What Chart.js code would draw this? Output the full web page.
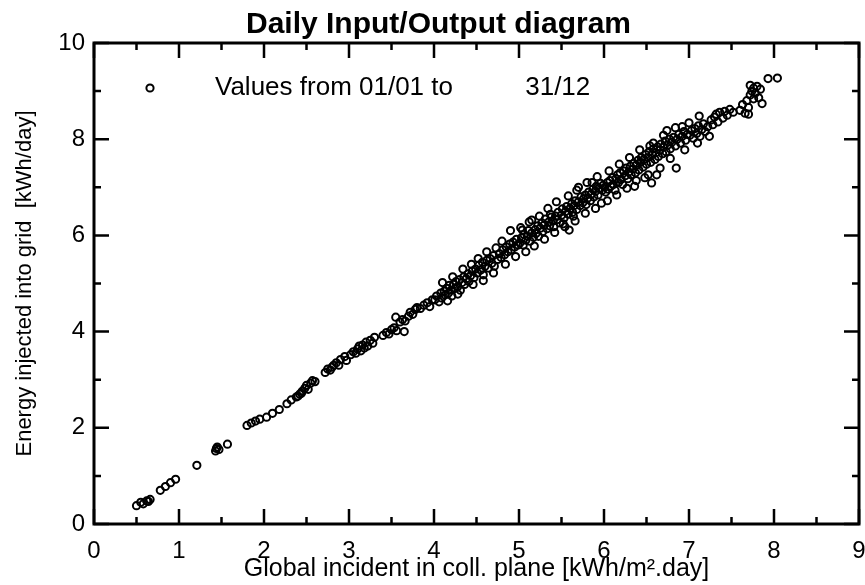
<!DOCTYPE html>
<html>
<head>
<meta charset="utf-8">
<title>Daily Input/Output diagram</title>
<script src="https://cdn.jsdelivr.net/npm/chart.js@4.4.1/dist/chart.umd.min.js"></script>
<style>
  html, body { margin: 0; padding: 0; background: #fff; }
  canvas { display: block; }
</style>
</head>
<body>
<canvas id="chart" width="865" height="585"></canvas>
<script>
// Daily values, one point per day of the year
// Global incident in coll. plane [kWh/m².day]
const globalIncident = [
  0.50, 0.55, 0.58, 0.62, 0.66, 0.78, 0.84, 0.90, 0.96, 0.64,
  1.21, 1.43, 1.45, 1.47, 1.57, 1.80, 1.85, 1.90, 1.95, 1.44,
  2.03, 2.10, 2.18, 2.27, 2.32, 2.38, 2.42, 2.45, 2.48, 2.50,
  2.52, 2.55, 2.57, 2.44, 2.40, 2.60, 2.72, 2.75, 2.78, 2.82,
  2.85, 2.88, 2.90, 2.95, 2.97, 2.80,
  3.02, 3.05, 3.08, 3.10, 3.12, 3.14, 3.16, 3.18, 3.20, 3.22,
  3.25, 3.28, 3.30, 3.40, 3.44, 3.47, 3.50, 3.53, 3.56, 3.60,
  3.63, 3.66, 3.70, 3.72, 3.75, 3.78, 3.80, 3.84, 3.88, 3.92,
  3.95, 3.98,
  4.01, 4.03, 4.06, 4.08, 4.09, 4.12, 4.13, 4.15, 4.17, 4.18,
  4.20, 4.21, 4.23, 4.25, 4.26, 4.28, 4.30, 4.31, 4.33, 4.35,
  4.36, 4.38, 4.40, 4.41, 4.43, 4.45, 4.47, 4.49, 4.51, 4.53,
  4.55, 4.57, 4.58, 4.60, 4.62, 4.64, 4.66, 4.68, 4.70, 4.71,
  4.73, 4.75, 4.77, 4.79, 4.81, 4.83, 4.85, 4.87, 4.89, 4.91,
  4.93, 4.95, 4.97, 4.99, 4.44,
  5.01, 5.03, 5.05, 5.06, 5.08, 5.10, 5.11, 5.13, 5.15, 5.15,
  5.17, 5.19, 5.20, 5.22, 5.23, 5.25, 5.27, 5.28, 5.30, 5.31,
  5.33, 5.35, 5.36, 5.38, 5.40, 5.41, 5.43, 5.45, 5.46, 5.48,
  5.50, 5.51, 5.53, 5.55, 5.56, 5.58, 5.59, 5.60, 5.62, 5.63,
  5.65, 5.66, 5.68, 5.70, 5.70, 5.72, 5.73, 5.75, 5.76, 5.78,
  5.79, 5.81, 5.82, 5.84, 5.85, 5.87, 5.88, 5.90, 5.91, 5.93,
  5.94, 5.96, 5.97, 5.98, 5.99, 5.04, 5.37, 5.52, 5.86, 5.64,
  6.01, 6.02, 6.04, 6.05, 6.07, 6.08, 6.10, 6.11, 6.13, 6.14,
  6.16, 6.17, 6.19, 6.20, 6.22, 6.23, 6.25, 6.26, 6.28, 6.29,
  6.31, 6.32, 6.34, 6.35, 6.37, 6.38, 6.40, 6.41, 6.43, 6.44,
  6.46, 6.47, 6.49, 6.50, 6.52, 6.53, 6.55, 6.56, 6.57, 6.58,
  6.60, 6.61, 6.63, 6.64, 6.66, 6.67, 6.69, 6.70, 6.72, 6.73,
  6.75, 6.77, 6.78, 6.80, 6.82, 6.84, 6.85, 6.86, 6.88, 6.90,
  6.92, 6.94, 6.96, 6.98, 6.48, 6.62, 6.36, 6.74, 6.54, 6.92,
  7.01, 7.03, 7.05, 7.07, 7.09, 7.11, 7.13, 7.15, 7.17, 7.19,
  7.22, 7.26, 7.28, 7.30, 7.32, 7.34, 7.36, 7.40, 7.42, 7.45,
  7.48, 7.52, 7.60, 7.63, 7.66, 7.68, 7.70, 7.72, 7.74, 7.76,
  7.78, 7.80, 7.82, 7.84, 7.86, 7.76, 7.72, 7.93, 8.04, 7.70,
  4.10, 4.22, 4.34, 4.52, 4.62, 4.80, 4.90, 5.02, 5.12, 5.24,
  5.34, 5.44, 5.58, 5.68, 5.80, 5.92, 6.06, 6.18, 6.30, 6.42,
  6.58, 6.70, 6.84, 7.00, 7.12, 3.55,
  4.16, 4.28, 4.46, 4.58, 4.70, 4.84, 4.96, 5.08, 5.18, 5.30,
  5.42, 5.54, 5.66, 5.78, 5.90, 6.04, 6.15, 6.27, 6.38, 6.52,
  6.66, 6.78, 6.95, 7.10, 7.24, 3.65
];
// Energy injected into grid [kWh/day]
const energyInjected = [
  0.38, 0.45, 0.42, 0.48, 0.51, 0.70, 0.78, 0.86, 0.93, 0.47,
  1.22, 1.52, 1.60, 1.55, 1.66, 2.05, 2.10, 2.14, 2.18, 1.57,
  2.22, 2.30, 2.38, 2.50, 2.58, 2.64, 2.70, 2.76, 2.82, 2.88,
  2.80, 2.93, 2.98, 2.72, 2.66, 2.96, 3.15, 3.22, 3.20, 3.30,
  3.35, 3.30, 3.42, 3.48, 3.40, 3.26,
  3.52, 3.58, 3.55, 3.64, 3.70, 3.60, 3.72, 3.66, 3.78, 3.70,
  3.82, 3.76, 3.88, 3.92, 3.98, 3.95, 4.04, 4.08, 4.02, 4.20,
  4.25, 4.22, 4.32, 4.40, 4.36, 4.46, 4.50, 4.48, 4.55, 4.60,
  4.52, 4.66,
  4.66, 4.74, 4.62, 4.80, 4.70, 4.84, 4.76, 4.90, 4.80, 4.96,
  4.86, 4.74, 4.98, 4.90, 5.04, 4.94, 5.08, 4.86, 5.02, 5.14,
  4.98, 5.10, 5.20, 5.04, 5.16, 5.26, 5.12, 5.30, 5.22, 5.38,
  5.28, 5.44, 5.18, 5.36, 5.48, 5.32, 5.52, 5.42, 5.58, 5.36,
  5.74, 5.50, 5.62, 5.54, 5.70, 5.60, 5.76, 5.66, 5.82, 5.70,
  5.86, 5.76, 5.92, 5.80, 5.40,
  5.84, 5.95, 5.80, 6.02, 5.90, 5.98, 6.10, 5.88, 6.05, 6.32,
  5.96, 6.12, 6.04, 6.20, 5.98, 6.15, 6.26, 6.08, 6.22, 6.34,
  6.14, 6.28, 6.20, 6.38, 6.30, 6.18, 6.40, 6.33, 6.48, 6.26,
  6.42, 6.55, 6.36, 6.50, 6.60, 6.44, 6.11, 6.56, 6.66, 6.48,
  6.62, 6.72, 6.54, 6.70, 7.00, 6.62, 6.80, 6.68, 6.76, 6.84,
  6.64, 6.78, 6.90, 6.72, 6.86, 6.96, 6.80, 6.92, 7.02, 6.84,
  6.98, 7.08, 6.67, 6.94, 7.04, 6.11, 6.44, 6.24, 7.10, 6.40,
  7.00, 6.90, 7.10, 6.96, 7.14, 7.02, 7.20, 7.06, 6.94, 7.18,
  7.26, 7.10, 7.30, 7.16, 7.06, 7.34, 7.24, 7.40, 7.18, 7.32,
  7.44, 7.26, 7.38, 7.50, 7.30, 7.46, 7.56, 7.36, 7.52, 7.62,
  7.42, 7.58, 7.68, 7.48, 7.62, 7.74, 7.52, 7.09, 7.68, 7.80,
  7.58, 7.72, 7.84, 7.64, 7.78, 7.90, 7.70, 7.84, 7.96, 7.74,
  7.88, 8.00, 7.80, 7.94, 8.04, 7.86, 7.40, 8.00, 8.10, 7.92,
  8.06, 8.16, 7.98, 8.10, 7.20, 7.26, 7.02, 8.18, 7.86, 8.26,
  8.08, 8.18, 8.02, 8.22, 8.12, 8.28, 8.06, 8.20, 8.32, 8.16,
  8.26, 8.40, 8.30, 8.46, 8.52, 8.36, 8.56, 8.44, 8.58, 8.50,
  8.62, 8.56, 8.60, 8.72, 8.54, 8.80, 8.66, 8.92, 9.00, 9.06,
  8.96, 9.10, 8.86, 9.04, 8.74, 8.84, 9.12, 9.26, 9.27, 8.52,
  5.02, 5.14, 5.30, 5.52, 5.66, 5.88, 6.10, 6.16, 6.28, 6.40,
  6.56, 6.70, 6.82, 6.94, 7.10, 7.22, 7.34, 7.48, 7.62, 7.78,
  7.92, 8.08, 8.24, 8.34, 8.48, 4.30,
  4.64, 4.78, 4.98, 5.06, 5.22, 5.40, 5.56, 5.66, 5.78, 5.92,
  6.06, 6.18, 6.30, 6.46, 6.56, 6.72, 6.84, 6.98, 7.14, 7.26,
  7.40, 7.60, 7.78, 7.92, 8.06, 4.00
];

const xTicks = [0, 1, 2, 3, 4, 5, 6, 7, 8, 9];
const yTicks = [0, 2, 4, 6, 8, 10];
const legendLabel = 'Values from 01/01 to          31/12';

Chart.defaults.font.family = '"Liberation Sans", Arial, sans-serif';
Chart.defaults.color = '#000';

// frame, inward ticks and the in-plot legend line
const frameTicks = {
    id: 'frameTicks',
    afterDatasetsDraw(chart) {
        const { ctx, chartArea: a, scales: { x, y } } = chart;
        ctx.save();
        ctx.strokeStyle = '#000';
        ctx.lineWidth = 2.5;
        ctx.beginPath();
        for (let v = 0; v <= 9; v += 0.5) {
            const px = x.getPixelForValue(v);
            const len = Number.isInteger(v) ? 15 : 7;
            ctx.moveTo(px, a.bottom); ctx.lineTo(px, a.bottom - len);
            ctx.moveTo(px, a.top); ctx.lineTo(px, a.top + len);
        }
        for (let v = 0; v <= 10; v += 1) {
            const py = y.getPixelForValue(v);
            const len = v % 2 === 0 ? 15 : 7;
            ctx.moveTo(a.left, py); ctx.lineTo(a.left + len, py);
            ctx.moveTo(a.right, py); ctx.lineTo(a.right - len, py);
        }
        ctx.stroke();
        ctx.lineWidth = 3;
        ctx.strokeRect(a.left, a.top, a.right - a.left, a.bottom - a.top);

        // legend
        const ds = chart.data.datasets[0];
        ctx.lineWidth = ds.borderWidth;
        ctx.beginPath();
        ctx.arc(a.left + 56, a.top + 45, ds.pointRadius, 0, Math.PI * 2);
        ctx.stroke();
        ctx.fillStyle = '#000';
        ctx.font = '26px "Liberation Sans", Arial, sans-serif';
        ctx.textBaseline = 'middle';
        ctx.fillText(legendLabel, a.left + 121, a.top + 45);
        ctx.restore();
    }
};

new Chart(document.getElementById('chart'), {
    type: 'scatter',
    data: {
        datasets: [{
            label: 'Values',
            data: globalIncident.map((g, i) => ({ x: g, y: energyInjected[i] })),
            pointStyle: 'circle',
            pointRadius: 3.6,
            borderWidth: 2,
            borderColor: '#000',
            backgroundColor: 'rgba(0,0,0,0)'
        }]
    },
    options: {
        responsive: false,
        animation: false,
        events: [],
        layout: { padding: { left: 16, right: 4, top: 0, bottom: 0 } },
        plugins: {
            legend: { display: false },
            tooltip: { enabled: false },
            title: {
                display: true,
                text: 'Daily Input/Output diagram',
                color: '#000',
                font: { size: 30, weight: 'bold' },
                padding: { top: 7, bottom: 0 }
            }
        },
        scales: {
            x: {
                type: 'linear',
                min: 0,
                max: 9,
                afterBuildTicks: s => { s.ticks = xTicks.map(v => ({ value: v })); },
                afterFit: s => { s.height = 61; s.paddingRight = 0; },
                grid: { display: true, drawOnChartArea: false, drawTicks: false },
                border: { display: false },
                ticks: { padding: 13, font: { size: 24 }, color: '#000' },
                title: {
                    display: true,
                    text: 'Global incident in coll. plane [kWh/m².day]',
                    color: '#000',
                    font: { size: 25, lineHeight: 1 },
                    padding: { top: 0, bottom: 3 }
                }
            },
            y: {
                type: 'linear',
                min: 0,
                max: 10,
                afterBuildTicks: s => { s.ticks = yTicks.map(v => ({ value: v })); },
                afterFit: s => { s.width = 78; },
                grid: { display: true, drawOnChartArea: false, drawTicks: false },
                border: { display: false },
                ticks: { padding: 9, font: { size: 24 }, color: '#000' },
                title: {
                    display: true,
                    text: 'Energy injected into grid  [kWh/day]',
                    color: '#000',
                    font: { size: 22, lineHeight: 0.8 },
                    padding: { top: 0, bottom: 0 }
                }
            }
        }
    },
    plugins: [frameTicks]
});
</script>
</body>
</html>
